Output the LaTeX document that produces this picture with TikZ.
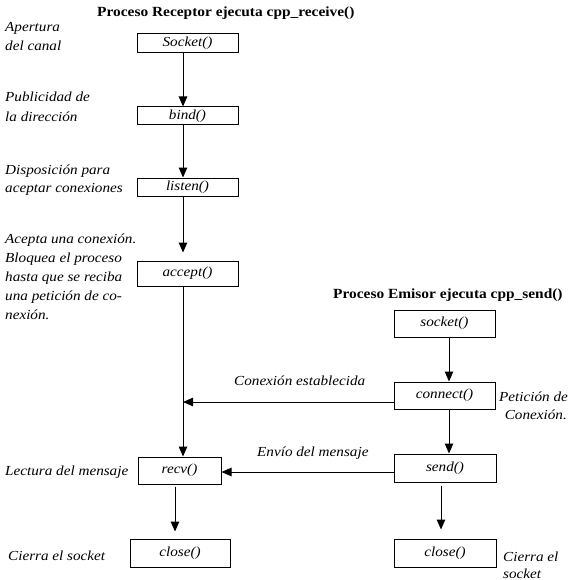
\documentclass[tikz,border=0pt]{standalone}
\usepackage{fontspec}
\setmainfont[FakeStretch=1.1]{Liberation Serif}
\usetikzlibrary{arrows.meta}
\tikzset{
  box/.style={draw, line width=1pt, minimum width=101pt, inner sep=0pt,
    font=\fontsize{13.8}{16}\selectfont\itshape},
  lbl/.style={inner sep=0pt, anchor=base west, font=\fontsize{13.8}{16}\selectfont\itshape},
  lble/.style={inner sep=0pt, anchor=base east, font=\fontsize{13.8}{16}\selectfont\itshape},
  ttl/.style={inner sep=0pt, anchor=base west, font=\fontsize{14}{16}\selectfont\bfseries},
  arr/.style={line width=1pt, -{Triangle[width=8.5pt,length=10pt]}},
}
\begin{document}
\begin{tikzpicture}[x=1pt,y=-1pt]
\useasboundingbox (0,0) rectangle (571,580);
% titles
\node[ttl] (t1) at (97,17) {Proceso Receptor ejecuta cpp\_receive()};
\node[ttl] (t2) at (333,298) {Proceso Emisor ejecuta cpp\_send()};
% receiver boxes
\node[box, minimum height=19pt] (sockL) at (187.5,43.5) {Socket()};
\node[box, minimum height=18pt] (bind) at (187.5,116) {bind()};
\node[box, minimum height=18pt] (listen) at (187.5,187) {listen()};
\node[box, minimum height=25pt] (accept) at (187.5,273.5) {accept()};
\node[box, minimum width=83pt, minimum height=27pt] (recv) at (179.5,470.5) {recv()};
\node[box, minimum width=100pt, minimum height=28pt] (closeL) at (180,553) {close()};
% sender boxes
\node[box, minimum height=27pt] (sockR) at (444.5,323.5) {socket()};
\node[box, minimum height=27pt] (connect) at (444.5,395.5) {connect()};
\node[box, minimum width=102pt, minimum height=28pt] (send) at (445,468) {send()};
\node[box, minimum width=102pt, minimum height=28pt] (closeR) at (445,553) {close()};
% left labels
\node[lbl] (a1) at (5,32) {Apertura};
\node[lbl] (a2) at (5,51) {del canal};
\node[lbl] (b1) at (5,102) {Publicidad de};
\node[lbl] (b2) at (5,122) {la dirección};
\node[lbl] (c1) at (5,174) {Disposición para};
\node[lbl] (c2) at (5,192) {aceptar conexiones};
\node[lbl] (d1) at (5,243) {Acepta una conexión.};
\node[lbl] (d2) at (5,262) {Bloquea el proceso};
\node[lbl] (d3) at (5,281) {hasta que se reciba};
\node[lbl] (d4) at (5,300) {una petición de co-};
\node[lbl] (d5) at (5,319) {nexión.};
\node[lbl] (e1) at (5,475) {Lectura del mensaje};
\node[lbl] (f1) at (8,560) {Cierra el socket};
% right labels
\node[lbl] (g1) at (499,401) {Petición de};
\node[lble] (g2) at (567,419) {Conexión.};
\node[lbl] (h1) at (503,561) {Cierra el};
\node[lbl] (h2) at (503,578) {socket};
% message labels
\node[lbl] (m1) at (234,385) {Conexión establecida};
\node[lbl] (m2) at (257,456) {Envío del mensaje};
% receiver arrows
\draw[arr] ([xshift=-4.5pt]sockL.south) -- ([xshift=-4.5pt]bind.north);
\draw[arr] ([xshift=-4.5pt]bind.south) -- ([xshift=-4.5pt]listen.north);
\draw[arr] ([xshift=-4.5pt]listen.south) -- ([xshift=-4.5pt,yshift=8pt]accept.north);
\coordinate (lt) at ([xshift=-4.5pt]accept.south);
\draw[arr] (lt) -- (lt |- recv.north);
\coordinate (rs) at ([xshift=-4.5pt,yshift=-2pt]recv.south);
\coordinate (cLt) at ([yshift=7pt]closeL.north);
\draw[arr] (rs) -- (rs |- cLt);
% sender arrows
\draw[arr] ([xshift=4.5pt]sockR.south) -- ([xshift=4.5pt]connect.north);
\coordinate (cs) at ([xshift=4.5pt]connect.south);
\draw[arr] (cs) -- (cs |- send.north);
\coordinate (ss) at ([xshift=-4pt,yshift=-3pt]send.south);
\coordinate (cRt) at ([yshift=9pt]closeR.north);
\draw[arr] (ss) -- (ss |- cRt);
% messages
\coordinate (cw) at ([yshift=-6.5pt]connect.west);
\draw[arr] (cw) -- (cw -| lt);
\coordinate (sw) at ([yshift=-4pt]send.west);
\draw[arr] (sw) -- (sw -| recv.east);
\end{tikzpicture}
\end{document}
